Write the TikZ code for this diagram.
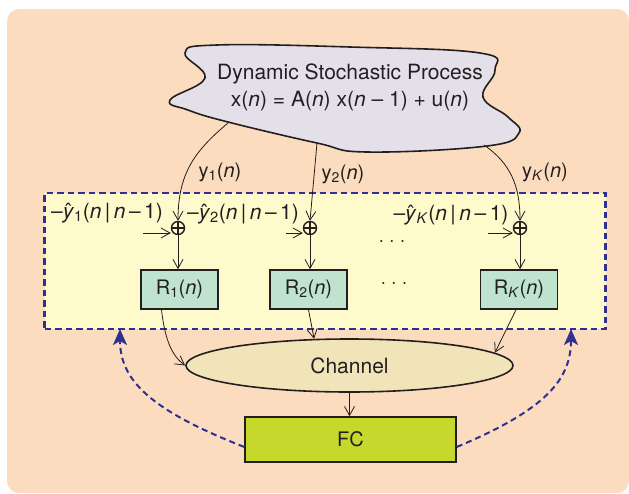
\documentclass[tikz,border=0pt]{standalone}
\usepackage{fontspec}
\setmainfont{TeX Gyre Heros}
\usetikzlibrary{arrows.meta,calc,shapes.geometric}
\definecolor{peach}{HTML}{FCDCBE}
\definecolor{paleyellow}{HTML}{FFFACC}
\definecolor{cloudgray}{HTML}{E3E0EA}
\definecolor{rgreen}{HTML}{BFE3CE}
\definecolor{chan}{HTML}{F1E4B8}
\definecolor{fcgreen}{HTML}{C5D82B}
\definecolor{dblue}{HTML}{2E3192}
\definecolor{ink}{HTML}{231F20}
\newcommand{\nv}{\textit{n}}
\newcommand{\pred}[1]{–\^{\textit{y}}\textsubscript{#1}(\nv\,|\,\nv\,–\,1)}

\begin{document}
\begin{tikzpicture}[x=1pt,y=-1pt,
  thinarrow/.style={draw=ink,line width=0.8pt,-{Straight Barb[length=9pt,width=10pt]}},
  rbox/.style={draw=ink,line width=1.6pt,fill=rgreen,minimum width=77pt,minimum height=39pt,
    text=ink,font=\fontsize{20}{24}\selectfont},
  oplus/.style={circle,draw=ink,line width=1.4pt,minimum size=13pt,inner sep=0pt,
    path picture={\draw[ink,line width=1.2pt]
      (path picture bounding box.north) -- (path picture bounding box.south)
      (path picture bounding box.west) -- (path picture bounding box.east);}},
  lbl/.style={text=ink,font=\fontsize{20}{24}\selectfont,inner sep=0pt},
  feedback/.style={draw=dblue,line width=2pt,dash pattern=on 6pt off 4pt,
    -{Stealth[length=16pt,width=14pt,inset=4pt]}}]
\useasboundingbox (0,0) rectangle (629,493);
\fill[peach,rounded corners=12pt] (7,9) rectangle (629,493);

% sensor area
\node[draw=dblue,fill=paleyellow,line width=2.2pt,dash pattern=on 6.5pt off 4pt,
  minimum width=561pt,minimum height=136pt] (sn) at (325,261) {};

% process cloud
\draw[ink,line width=1.6pt,fill=cloudgray] plot[smooth cycle,tension=0.7] coordinates
  {(185,53) (217,45) (350,47) (480,53) (495,70) (483,97) (508,117) (519,133)
   (487,146) (367,152) (317,143) (228,122) (188,110) (170,100) (205,78)};
\node[lbl,font=\fontsize{21}{27}\selectfont,align=center] (proc) at (350,87)
  {Dynamic Stochastic Process\\x(\nv) = A(\nv) x(\nv\ –\ 1) + u(\nv)};
\coordinate (c1) at (228,123);
\coordinate (c2) at (317,143);
\coordinate (cK) at (484,145);

% sums
\node[oplus] (s1) at (178,228) {};
\node[oplus] (s2) at (310,228) {};
\node[oplus] (sK) at (520,228) {};
\node[lbl] (y1) at (220,172) {y\textsubscript{1}(\nv)};
\node[lbl] (y2) at (343,174) {y\textsubscript{2}(\nv)};
\node[lbl] (yK) at (545,172) {y\textsubscript{\textit{K}}(\nv)};
\node[lbl,font=\fontsize{21}{24}\selectfont] (p1) at (107,213) {\pred{1}};
\node[lbl,font=\fontsize{21}{24}\selectfont] (p2) at (243,214) {\pred{2}};
\node[lbl,font=\fontsize{21}{24}\selectfont] (pK) at (451,215) {\pred{\textit{K}}};
\node[lbl] (d1) at (392,243) {\textperiodcentered\hspace{5pt}\textperiodcentered\hspace{5pt}\textperiodcentered};
\coordinate (u1) at (143,233);
\coordinate (u2) at (286,233);
\coordinate (uK) at (488,233);

% receivers
\node[rbox] (r1) at (179.5,289.5) {R\textsubscript{1}(\nv)};
\node[rbox] (r2) at (308.5,289.5) {R\textsubscript{2}(\nv)};
\node[rbox] (rK) at (519,289.5) {R\textsubscript{\textit{K}}(\nv)};
\node[lbl] (d2) at (394,285) {\textperiodcentered\hspace{5pt}\textperiodcentered\hspace{5pt}\textperiodcentered};

\node[ellipse,draw=ink,line width=1.6pt,fill=chan,minimum width=327pt,minimum height=53pt,
  text=ink,font=\fontsize{21}{24}\selectfont] (ch) at (349.5,365.5) {Channel};
\node[draw=ink,line width=1.6pt,fill=fcgreen,minimum width=211pt,minimum height=45pt,
  text=ink,font=\fontsize{20}{24}\selectfont] (fc) at (350.5,439.5) {FC};
\coordinate (fbL) at (120,329);
\coordinate (fbR) at (571,329);

\draw[thinarrow] (c1) .. controls (196,150) and (178,172) .. (s1.north);
\draw[thinarrow] (c2) -- (s2.north);
\draw[thinarrow] (cK) .. controls (510,163) and (520,185) .. (sK.north);
\draw[thinarrow] (u1) -- (u1 -| s1.west);
\draw[thinarrow] (u2) -- (u2 -| s2.west);
\draw[thinarrow] (uK) -- (uK -| sK.west);
\draw[thinarrow] (s1.south) -- (s1.south |- r1.north);
\draw[thinarrow] (s2.south) -- (s2.south |- r2.north);
\draw[thinarrow] (sK.south) -- (sK.south |- rK.north);
\draw[thinarrow] ($(r1.south)+(-18,0)$) .. controls (165,340) and (172,356) .. (ch.west);
\draw[thinarrow] (r2.south) -- (ch.143);
\draw[thinarrow] ($(rK.south)+(-3,0)$) -- (ch.5);
\draw[thinarrow] (ch.south) -- (ch.south |- fc.north);
\draw[feedback] (fc.184) .. controls (150,410) and (120,380) .. (fbL);
\draw[feedback] (fc.-4) .. controls (545,410) and (571,380) .. (fbR);
\end{tikzpicture}
\end{document}
